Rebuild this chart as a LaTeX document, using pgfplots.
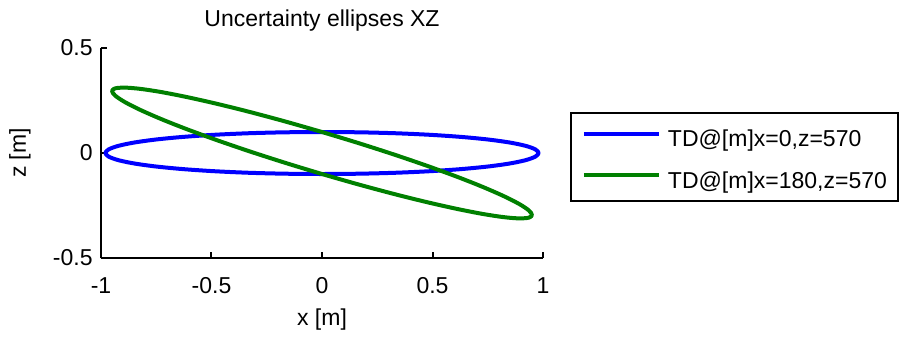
\documentclass[border=0pt]{standalone}
\usepackage{fontspec}
\setmainfont{Liberation Sans}
\usepackage{pgfplots}
\pgfplotsset{compat=1.18}
\definecolor{mblue}{RGB}{0,0,255}
\definecolor{mgreen}{RGB}{0,128,0}
\begin{document}
\begin{tikzpicture}
\useasboundingbox (-50.5pt,-39.5pt) rectangle (399pt,129pt);
\begin{axis}[
  at={(0,0)}, anchor=south west,
  scale only axis, width=221pt, height=105pt,
  xmin=-1, xmax=1, ymin=-0.5, ymax=0.5,
  axis x line*=bottom, axis y line*=left,
  axis line style={-, line width=1pt, black},
  tick align=inside, major tick length=3pt,
  tick style={line width=1pt, black},
  xtick={-1,-0.5,0,0.5,1}, ytick={-0.5,0,0.5},
  /pgf/number format/assume math mode=true,
  font=\fontsize{11.5}{13.8}\selectfont,
  xticklabel style={anchor=base, inner sep=0pt, yshift=-17.5pt},
  yticklabel style={anchor=east, inner sep=0pt, xshift=-4pt},
  title={Uncertainty ellipses XZ},
  title style={at={(0.5,1)}, anchor=base, yshift=5pt, inner sep=0pt},
  xlabel={x [m]},
  xlabel style={at={(0.5,0)}, anchor=base, yshift=-33.5pt, inner sep=0pt},
  ylabel={z [m]},
  ylabel style={at={(-0.17,0.5)}, anchor=base, inner sep=0pt},
  legend style={at={(1.061,0.695)}, anchor=north west, draw=black, line width=1pt,
    inner xsep=5.5pt, inner ysep=5.8pt, row sep=9.3pt,
    nodes={inner sep=0pt, text height=11pt, text depth=0.5pt, anchor=base west},
    font=\fontsize{11.5}{13.8}\selectfont,
    /tikz/every odd column/.append style={column sep=3.5pt}},
  legend cell align=left,
  legend image code/.code={\draw[#1, line width=2pt] (0pt,6.5pt) -- (37.5pt,6.5pt);},
]
\addplot[mblue, line width=2pt, line join=round, smooth] coordinates {
(0,0.1) (-0.170,0.0985) (-0.335,0.094) (-0.49,0.0866) (-0.630,0.0766) (-0.751,0.0643) (-0.849,0.05) (-0.921,0.0342) (-0.965,0.0174) (-0.98,0) (-0.965,-0.0174) (-0.921,-0.0342) (-0.849,-0.05) (-0.751,-0.0643) (-0.630,-0.0766) (-0.49,-0.0866) (-0.335,-0.094) (-0.170,-0.0985) (0,-0.1) (0.170,-0.0985) (0.335,-0.094) (0.49,-0.0866) (0.630,-0.0766) (0.751,-0.0643) (0.849,-0.05) (0.921,-0.0342) (0.965,-0.0174) (0.98,0) (0.965,0.0174) (0.921,0.0342) (0.849,0.05) (0.751,0.0643) (0.630,0.0766) (0.49,0.0866) (0.335,0.094) (0.170,0.0985) (0,0.1)
};
\addlegendentry{TD@[m]x=0,z=570}
\addplot[mgreen, line width=2pt, line join=round, smooth] coordinates {
(0,0.1) (-0.1649,0.1497) (-0.3249,0.1949) (-0.475,0.2341) (-0.6107,0.2662) (-0.7277,0.2903) (-0.8227,0.3055) (-0.8927,0.3114) (-0.9356,0.3079) (-0.95,0.295) (-0.9356,0.2731) (-0.8927,0.2430) (-0.8227,0.2055) (-0.7277,0.1617) (-0.6107,0.1130) (-0.475,0.0609) (-0.3249,0.0069) (-0.1649,-0.0473) (0,-0.1) (0.1649,-0.1497) (0.3249,-0.1949) (0.475,-0.2341) (0.6107,-0.2662) (0.7277,-0.2903) (0.8227,-0.3055) (0.8927,-0.3114) (0.9356,-0.3079) (0.95,-0.295) (0.9356,-0.2731) (0.8927,-0.2430) (0.8227,-0.2055) (0.7277,-0.1617) (0.6107,-0.1130) (0.475,-0.0609) (0.3249,-0.0069) (0.1649,0.0473) (0,0.1)
};
\addlegendentry{TD@[m]x=180,z=570}
\end{axis}
\end{tikzpicture}
\end{document}
